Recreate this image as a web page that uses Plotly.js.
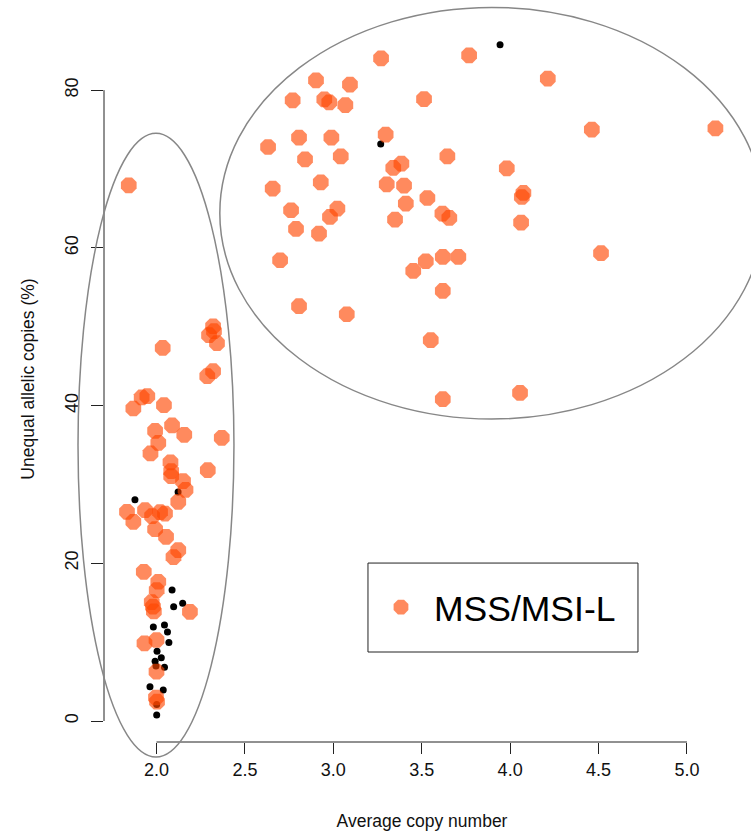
<!DOCTYPE html>
<html>
<head>
<meta charset="utf-8">
<script src="https://cdn.plot.ly/plotly-3.0.1.min.js"></script>
<style>html,body{margin:0;padding:0;background:#fff;}#chart{width:751px;height:834px;}</style>
</head>
<body>
<div id="chart"></div>
<script>
// MSS/MSI-L samples (orange)
const mssX = [3.270,3.768,2.902,3.094,2.770,2.949,2.977,3.068,3.513,3.296,2.631,2.806,2.989,2.840,3.042,3.645,3.339,3.385,2.657,2.929,3.302,3.400,3.532,2.761,3.023,2.981,3.410,3.349,3.617,3.656,2.789,2.919,4.213,4.462,5.161,3.981,4.075,4.066,4.062,2.699,3.452,3.523,3.619,3.707,3.619,2.806,3.076,3.551,3.619,4.056,4.514,
  1.843,2.320,2.325,2.297,2.342,2.035,2.320,2.287,2.369,1.916,1.948,1.869,2.042,2.088,2.157,1.992,2.010,1.966,2.079,2.083,2.083,2.150,2.164,2.123,2.290,1.833,1.869,1.935,1.975,2.020,2.048,1.992,2.054,2.123,2.096,1.928,2.010,2.001,1.973,1.980,1.985,2.189,1.932,2.000,2.000,1.997,2.003];
const mssY = [84.03,84.41,81.24,80.70,78.71,78.83,78.45,78.11,78.87,74.36,72.79,73.98,73.98,71.23,71.61,71.61,70.13,70.68,67.52,68.31,68.06,67.90,66.32,64.77,64.98,63.92,65.61,63.59,64.35,63.79,62.40,61.81,81.46,75.00,75.16,70.09,66.96,66.45,63.21,58.43,57.07,58.30,58.85,58.85,54.54,52.60,51.58,48.29,40.81,41.61,59.32,
  67.93,50.06,49.43,48.92,47.91,47.31,44.36,43.73,35.91,41.03,41.19,39.63,40.05,37.48,36.29,36.79,35.27,33.93,32.80,31.69,31.05,30.42,29.32,27.79,31.81,26.53,25.26,26.74,25.98,26.49,26.30,24.33,23.36,21.67,20.79,18.92,17.66,16.60,15.08,14.50,13.90,13.85,9.85,10.27,6.25,2.98,2.45];
// other samples (black)
const otherX = [3.943,3.268,1.878,2.122,2.088,2.097,2.148,1.982,2.045,2.062,2.070,2.003,2.027,1.992,2.045,1.997,1.963,2.038,2.001,2.001];
const otherY = [85.77,73.17,28.05,29.05,16.60,14.49,14.92,11.91,12.17,11.28,9.95,8.85,8.01,7.57,6.81,6.97,4.35,3.93,2.09,0.76];

const xTicks = [2.0,2.5,3.0,3.5,4.0,4.5,5.0];
const xTickText = ['2.0','2.5','3.0','3.5','4.0','4.5','5.0'];
const yTicks = [0,20,40,60,80];
const yTickText = ['0','20','40','60','80'];
const legendName = 'MSS/MSI-L';
const xTitle = 'Average copy number';
const yTitle = 'Unequal allelic copies (%)';

const xr = [1.703, 5.30];
const yr = [-2.662, 89.40];
function px(x){ return (x - xr[0]) / (xr[1] - xr[0]); }
function py(y){ return (y - yr[0]) / (yr[1] - yr[0]); }

const FONT = 'Liberation Sans, Arial, sans-serif';
const axisCol = '#222';
const ellCol = 'rgb(135,135,135)';

const shapes = [
  {type:'line', xref:'paper', yref:'paper', x0:px(xTicks[0]), x1:px(xTicks[xTicks.length-1]), y0:0, y1:0, line:{color:axisCol, width:1}},
  {type:'line', xref:'paper', yref:'paper', x0:0, x1:0, y0:py(yTicks[0]), y1:py(yTicks[yTicks.length-1]), line:{color:axisCol, width:1}},
  // ellipses around the two groups
  {type:'circle', xref:'paper', yref:'paper', x0:px(1.556), x1:px(2.438), y0:py(-4.56), y1:py(74.52), line:{color:ellCol, width:1.5}},
  {type:'circle', xref:'paper', yref:'paper', x0:px(2.358), x1:px(5.434), y0:py(38.29), y1:py(90.49), line:{color:ellCol, width:1.5}},
  // legend frame
  {type:'rect', xref:'paper', yref:'paper', x0:px(3.196), x1:px(4.723), y0:py(8.75), y1:py(20.03), line:{color:axisCol, width:1}}
];

const traces = [
  {type:'scatter', mode:'markers', x:otherX, y:otherY, showlegend:false, hoverinfo:'x+y',
   marker:{color:'#000', size:7, symbol:'circle', line:{width:0}}},
  {type:'scatter', mode:'markers', x:mssX, y:mssY, name:legendName,
   marker:{color:'rgba(255,69,0,0.63)', size:17, symbol:'octagon', line:{width:0}}}
];

const layout = {
  width:751, height:834,
  margin:{l:104, r:11, t:15.6, b:92, pad:0},
  paper_bgcolor:'#fff', plot_bgcolor:'#fff',
  font:{family:FONT, size:18, color:'#111'},
  showlegend:true,
  legend:{x:px(3.196), y:py(14.4), xanchor:'left', yanchor:'middle', bgcolor:'rgba(0,0,0,0)', borderwidth:0,
          itemwidth:56, font:{family:FONT, size:35.5, color:'#000'}},
  xaxis:{range:xr, tickvals:xTicks, ticktext:xTickText, ticks:'outside', ticklen:11, tickwidth:1, tickcolor:axisCol,
         showgrid:false, zeroline:false, showline:false, automargin:false,
         tickfont:{family:FONT, size:18, color:'#111'},
         title:{text:xTitle, font:{family:FONT, size:17.5, color:'#111'}, standoff:36}},
  yaxis:{range:yr, tickvals:yTicks, ticktext:yTickText, ticks:'outside', ticklen:12, tickwidth:1, tickcolor:axisCol, tickangle:-90,
         ticklabelstandoff:6,
         showgrid:false, zeroline:false, showline:false, automargin:false,
         tickfont:{family:FONT, size:18, color:'#111'},
         title:{text:yTitle, font:{family:FONT, size:17.5, color:'#111'}, standoff:22}},
  shapes:shapes
};

Plotly.newPlot('chart', traces, layout, {displayModeBar:false, staticPlot:true});
</script>
</body>
</html>
